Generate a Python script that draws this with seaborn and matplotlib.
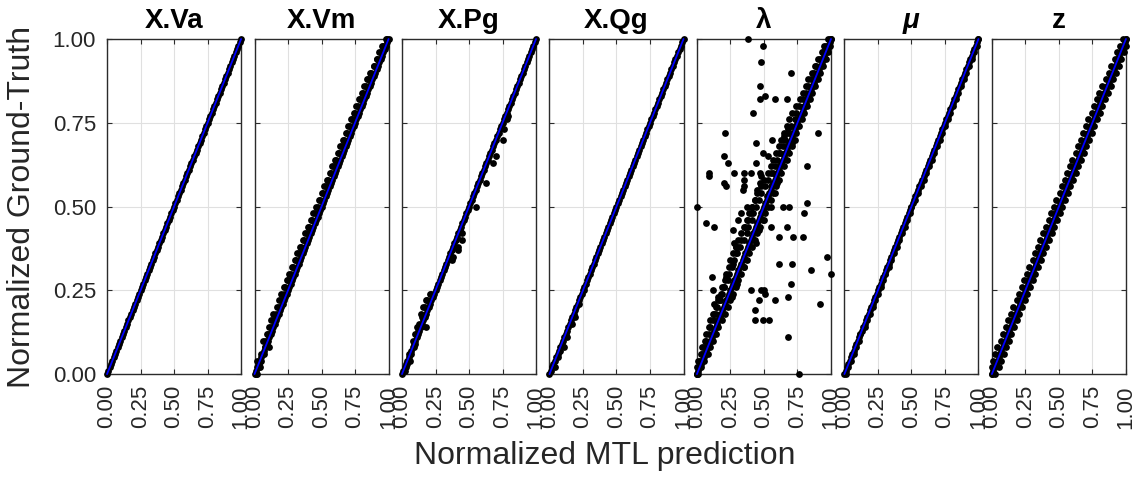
import numpy as np
import pandas as pd
import matplotlib
matplotlib.use("Agg")
import matplotlib.pyplot as plt
import seaborn as sns

# ---- data read off the reference (normalized prediction vs ground truth) ----
# fine grid of ground-truth values (points lying on the diagonal)
t_fine = [0.00, 0.01, 0.02, 0.03, 0.04, 0.05, 0.06, 0.07, 0.08, 0.09,
          0.10, 0.11, 0.12, 0.13, 0.14, 0.15, 0.16, 0.17, 0.18, 0.19,
          0.20, 0.21, 0.22, 0.23, 0.24, 0.25, 0.26, 0.27, 0.28, 0.29,
          0.30, 0.31, 0.32, 0.33, 0.34, 0.35, 0.36, 0.37, 0.38, 0.39,
          0.40, 0.41, 0.42, 0.43, 0.44, 0.45, 0.46, 0.47, 0.48, 0.49,
          0.50, 0.51, 0.52, 0.53, 0.54, 0.55, 0.56, 0.57, 0.58, 0.59,
          0.60, 0.61, 0.62, 0.63, 0.64, 0.65, 0.66, 0.67, 0.68, 0.69,
          0.70, 0.71, 0.72, 0.73, 0.74, 0.75, 0.76, 0.77, 0.78, 0.79,
          0.80, 0.81, 0.82, 0.83, 0.84, 0.85, 0.86, 0.87, 0.88, 0.89,
          0.90, 0.91, 0.92, 0.93, 0.94, 0.95, 0.96, 0.97, 0.98, 0.99, 1.00]

# coarse grid of ground-truth values (points off the diagonal)
t_coarse = [0.00, 0.02, 0.04, 0.06, 0.08, 0.10, 0.12, 0.14, 0.16, 0.18,
            0.20, 0.22, 0.24, 0.26, 0.28, 0.30, 0.32, 0.34, 0.36, 0.38,
            0.40, 0.42, 0.44, 0.46, 0.48, 0.50, 0.52, 0.54, 0.56, 0.58,
            0.60, 0.62, 0.64, 0.66, 0.68, 0.70, 0.72, 0.74, 0.76, 0.78,
            0.80, 0.82, 0.84, 0.86, 0.88, 0.90, 0.92, 0.94, 0.96, 0.98, 1.00]

# X.Vm: band left of the diagonal
vm_pred_a = [0.01, 0.03, 0.02, 0.07, 0.11, 0.06, 0.09, 0.11, 0.12, 0.14,
             0.17, 0.18, 0.20, 0.22, 0.24, 0.27, 0.28, 0.30, 0.32, 0.35,
             0.37, 0.38, 0.41, 0.43, 0.44, 0.47, 0.49, 0.51, 0.53, 0.55,
             0.57, 0.58, 0.61, 0.62, 0.64, 0.67, 0.68, 0.70, 0.72, 0.75,
             0.76, 0.78, 0.81, 0.83, 0.85, 0.86, 0.89, 0.91, 0.94, 0.96, 0.99]
vm_pred_b = [0.02, 0.04, 0.05, 0.05, 0.08, 0.08, 0.10, 0.12, 0.14, 0.16,
             0.18, 0.20, 0.22, 0.23, 0.25, 0.26, 0.29, 0.31, 0.33, 0.34,
             0.36, 0.39, 0.40, 0.42, 0.45, 0.46, 0.48, 0.50, 0.52, 0.54,
             0.56, 0.59, 0.60, 0.63, 0.65, 0.66, 0.69, 0.71, 0.73, 0.74,
             0.77, 0.79, 0.80, 0.82, 0.84, 0.87, 0.89, 0.91, 0.93, 0.95, 0.98]

# X.Pg: scattered points off the diagonal
pg_pred = [0.78, 0.79, 0.76, 0.75, 0.70, 0.68, 0.63, 0.55, 0.45, 0.45, 0.42, 0.42,
           0.37, 0.38, 0.22, 0.18, 0.19, 0.16, 0.13, 0.15, 0.18, 0.12, 0.10, 0.08,
           0.09, 0.07, 0.05, 0.06, 0.04, 0.03, 0.02, 0.10, 0.14, 0.11, 0.21, 0.17]
pg_true = [0.76, 0.77, 0.73, 0.70, 0.65, 0.63, 0.57, 0.50, 0.42, 0.40, 0.38, 0.37,
           0.34, 0.35, 0.24, 0.22, 0.22, 0.20, 0.15, 0.17, 0.14, 0.13, 0.12, 0.10,
           0.08, 0.06, 0.06, 0.04, 0.03, 0.02, 0.01, 0.09, 0.18, 0.14, 0.24, 0.20]

# X.Qg: a few points off the diagonal near the bottom
qg_pred = [0.02, 0.04, 0.11, 0.08, 0.19, 0.22, 0.17, 0.06, 0.13, 0.26]
qg_true = [0.02, 0.02, 0.08, 0.07, 0.17, 0.21, 0.15, 0.05, 0.11, 0.25]

# lambda: wide band plus many outliers
lam_pred_a = [0.00, 0.01, 0.02, 0.04, 0.05, 0.07, 0.09, 0.10, 0.12, 0.14,
              0.15, 0.17, 0.19, 0.20, 0.23, 0.24, 0.26, 0.28, 0.30, 0.32,
              0.35, 0.37, 0.38, 0.41, 0.42, 0.44, 0.46, 0.48, 0.51, 0.53,
              0.55, 0.58, 0.60, 0.61, 0.64, 0.66, 0.68, 0.70, 0.73, 0.74,
              0.76, 0.79, 0.81, 0.83, 0.85, 0.87, 0.89, 0.92, 0.94, 0.96, 0.99]
lam_pred_b = [0.01, 0.03, 0.05, 0.08, 0.10, 0.12, 0.14, 0.16, 0.19, 0.21,
              0.23, 0.25, 0.27, 0.29, 0.31, 0.33, 0.35, 0.37, 0.39, 0.41,
              0.43, 0.45, 0.47, 0.49, 0.51, 0.53, 0.55, 0.57, 0.59, 0.61,
              0.63, 0.65, 0.67, 0.69, 0.71, 0.73, 0.74, 0.76, 0.78, 0.80,
              0.82, 0.84, 0.86, 0.88, 0.90, 0.92, 0.94, 0.96, 0.98, 0.99, 1.00]
lam_pred_c = [0.00, 0.00, 0.01, 0.03, 0.04, 0.06, 0.07, 0.09, 0.10, 0.12,
              0.14, 0.16, 0.18, 0.19, 0.21, 0.22, 0.24, 0.25, 0.27, 0.29,
              0.31, 0.33, 0.35, 0.37, 0.39, 0.41, 0.43, 0.45, 0.48, 0.50,
              0.53, 0.55, 0.57, 0.59, 0.61, 0.63, 0.65, 0.67, 0.69, 0.71,
              0.74, 0.77, 0.79, 0.81, 0.83, 0.86, 0.88, 0.90, 0.93, 0.95, 0.98]
lam_band_pred = [0.17, 0.20, 0.22, 0.27, 0.29, 0.31, 0.33, 0.36, 0.38, 0.40,
                 0.41, 0.43, 0.45, 0.47, 0.52, 0.55, 0.57, 0.62, 0.65, 0.68,
                 0.30, 0.35, 0.46, 0.55, 0.58, 0.60, 0.50, 0.44, 0.26, 0.71]
lam_band_true = [0.22, 0.26, 0.29, 0.33, 0.36, 0.38, 0.40, 0.44, 0.46, 0.48,
                 0.50, 0.52, 0.55, 0.57, 0.53, 0.56, 0.60, 0.66, 0.71, 0.73,
                 0.27, 0.32, 0.43, 0.50, 0.54, 0.57, 0.46, 0.39, 0.23, 0.69]
lam_out_pred = [0.38, 0.49, 0.48, 0.70, 0.47, 0.51, 0.58, 0.67, 0.47, 0.42,
                0.21, 0.44, 0.56, 0.49, 0.90, 0.20, 0.53, 0.23, 0.44, 0.09,
                0.09, 0.28, 0.35, 0.40, 0.35, 0.47, 0.48, 0.20, 0.22, 0.35,
                0.34, 0.82, 0.00, 0.37, 0.64, 0.69, 0.82, 0.80, 0.33, 0.31,
                0.07, 0.13, 0.67, 0.27, 0.55, 0.72, 0.79, 0.61, 0.28, 0.29,
                0.97, 1.00, 0.85, 0.71, 0.61, 0.70, 0.11, 0.12, 0.40, 0.48,
                0.50, 0.51, 0.58, 0.68, 0.46, 0.16, 0.13, 0.92, 0.43, 0.13,
                0.43, 0.49, 0.54, 0.68, 0.76]
lam_out_true = [1.00, 0.98, 0.93, 0.90, 0.86, 0.83, 0.82, 0.82, 0.82, 0.78,
                0.72, 0.69, 0.70, 0.66, 0.72, 0.65, 0.65, 0.63, 0.63, 0.60,
                0.59, 0.60, 0.60, 0.60, 0.58, 0.60, 0.59, 0.57, 0.56, 0.56,
                0.55, 0.62, 0.50, 0.50, 0.50, 0.50, 0.51, 0.48, 0.48, 0.46,
                0.45, 0.44, 0.44, 0.43, 0.44, 0.41, 0.41, 0.41, 0.39, 0.38,
                0.35, 0.30, 0.31, 0.33, 0.33, 0.27, 0.29, 0.25, 0.25, 0.25,
                0.25, 0.24, 0.22, 0.23, 0.22, 0.23, 0.21, 0.21, 0.19, 0.18,
                0.16, 0.16, 0.16, 0.11, 0.00]

# mu: slightly thickened diagonal
mu_pred = [0.01, 0.03, 0.05, 0.07, 0.09, 0.11, 0.12, 0.15, 0.17, 0.19,
           0.21, 0.23, 0.25, 0.27, 0.29, 0.30, 0.33, 0.35, 0.37, 0.39,
           0.41, 0.43, 0.45, 0.47, 0.49, 0.50, 0.53, 0.55, 0.57, 0.59,
           0.61, 0.63, 0.65, 0.67, 0.69, 0.71, 0.73, 0.75, 0.77, 0.79,
           0.81, 0.83, 0.85, 0.87, 0.89, 0.91, 0.93, 0.95, 0.97, 0.99, 1.00]

# z: thick band on both sides of the diagonal
z_pred_a = [0.00, 0.00, 0.01, 0.02, 0.04, 0.065, 0.08, 0.105, 0.12, 0.145,
            0.16, 0.185, 0.20, 0.225, 0.24, 0.265, 0.28, 0.305, 0.32, 0.345,
            0.36, 0.385, 0.40, 0.425, 0.44, 0.465, 0.48, 0.505, 0.52, 0.545,
            0.56, 0.585, 0.60, 0.625, 0.64, 0.665, 0.68, 0.705, 0.72, 0.745,
            0.76, 0.785, 0.80, 0.825, 0.85, 0.87, 0.89, 0.915, 0.93, 0.955, 0.98]
z_pred_b = [0.02, 0.05, 0.065, 0.09, 0.105, 0.125, 0.145, 0.165, 0.185, 0.205,
            0.225, 0.245, 0.265, 0.285, 0.305, 0.325, 0.345, 0.365, 0.385, 0.405,
            0.425, 0.445, 0.465, 0.485, 0.505, 0.525, 0.545, 0.565, 0.585, 0.605,
            0.625, 0.645, 0.665, 0.685, 0.705, 0.725, 0.745, 0.765, 0.785, 0.805,
            0.825, 0.845, 0.865, 0.885, 0.905, 0.925, 0.945, 0.965, 0.985, 1.00, 1.00]

titles = ["X.Va", "X.Vm", "X.Pg", "X.Qg", "λ", "μ", "z"]
tick_vals = [0.00, 0.25, 0.50, 0.75, 1.00]
tick_labels = ["0.00", "0.25", "0.50", "0.75", "1.00"]

panel_sets = [
    [(t_fine, t_fine)],
    [(t_fine, t_fine), (vm_pred_a, t_coarse), (vm_pred_b, t_coarse)],
    [(t_fine, t_fine), (pg_pred, pg_true)],
    [(t_fine, t_fine), (qg_pred, qg_true)],
    [(t_fine, t_fine), (lam_pred_a, t_coarse), (lam_pred_b, t_coarse),
     (lam_pred_c, t_coarse), (lam_band_pred, lam_band_true),
     (lam_out_pred, lam_out_true)],
    [(t_fine, t_fine), (mu_pred, t_coarse)],
    [(t_fine, t_fine), (z_pred_a, t_coarse), (z_pred_b, t_coarse)],
]


def panel_frame(sets):
    parts = [pd.DataFrame({"pred": p, "truth": t}) for p, t in sets]
    return pd.concat(parts, ignore_index=True)


sns.set_theme(style="whitegrid")
plt.rcParams["font.family"] = ["Liberation Sans", "DejaVu Sans"]
plt.rcParams["axes.edgecolor"] = "#2b2b2b"
plt.rcParams["axes.linewidth"] = 1.0
plt.rcParams["grid.color"] = "#e0e0e0"
plt.rcParams["grid.linewidth"] = 0.8

fig, axes = plt.subplots(1, 7, figsize=(11.46, 4.79), dpi=100, sharey=True)
fig.subplots_adjust(left=0.0934, right=0.9825, bottom=0.219, top=0.9186, wspace=0.1)

for i, ax in enumerate(axes):
    df = panel_frame(panel_sets[i])
    sns.scatterplot(data=df, x="pred", y="truth", ax=ax, color="black", s=24,
                    linewidth=0, clip_on=False, zorder=3, legend=False)
    sns.lineplot(x=t_fine, y=t_fine, ax=ax, color="#0000ff", linewidth=1.3,
                 zorder=4, clip_on=False)
    ax.set_xlim(0, 1)
    ax.set_ylim(0, 1)
    ax.set_xticks(tick_vals)
    ax.set_xticklabels(tick_labels, rotation=90)
    ax.set_yticks(tick_vals)
    ax.set_yticklabels(tick_labels)
    ax.set_xlabel("")
    ax.set_ylabel("")
    for s in ax.spines.values():
        s.set_visible(True)
        s.set_color("#2b2b2b")
    ax.tick_params(axis="both", which="both", direction="in", length=3.5, width=0.8,
                   colors="#2b2b2b", labelcolor="#262626", labelsize=16,
                   top=True, right=True, bottom=True, left=True)
    ax.tick_params(axis="x", pad=8)
    ax.tick_params(axis="y", pad=8, labelleft=(i == 0))
    style = "italic" if titles[i] == "μ" else "normal"
    ax.set_title(titles[i], fontsize=20, fontweight="bold", fontstyle=style, pad=8,
                 color="black")

fig.text(0.528, 0.048, "Normalized MTL prediction", ha="center", va="center",
         fontsize=23, color="#262626")
fig.text(0.019, 0.568, "Normalized Ground-Truth", ha="center", va="center",
         rotation=90, fontsize=23, color="#262626")

fig.savefig("out.png", dpi=100)
